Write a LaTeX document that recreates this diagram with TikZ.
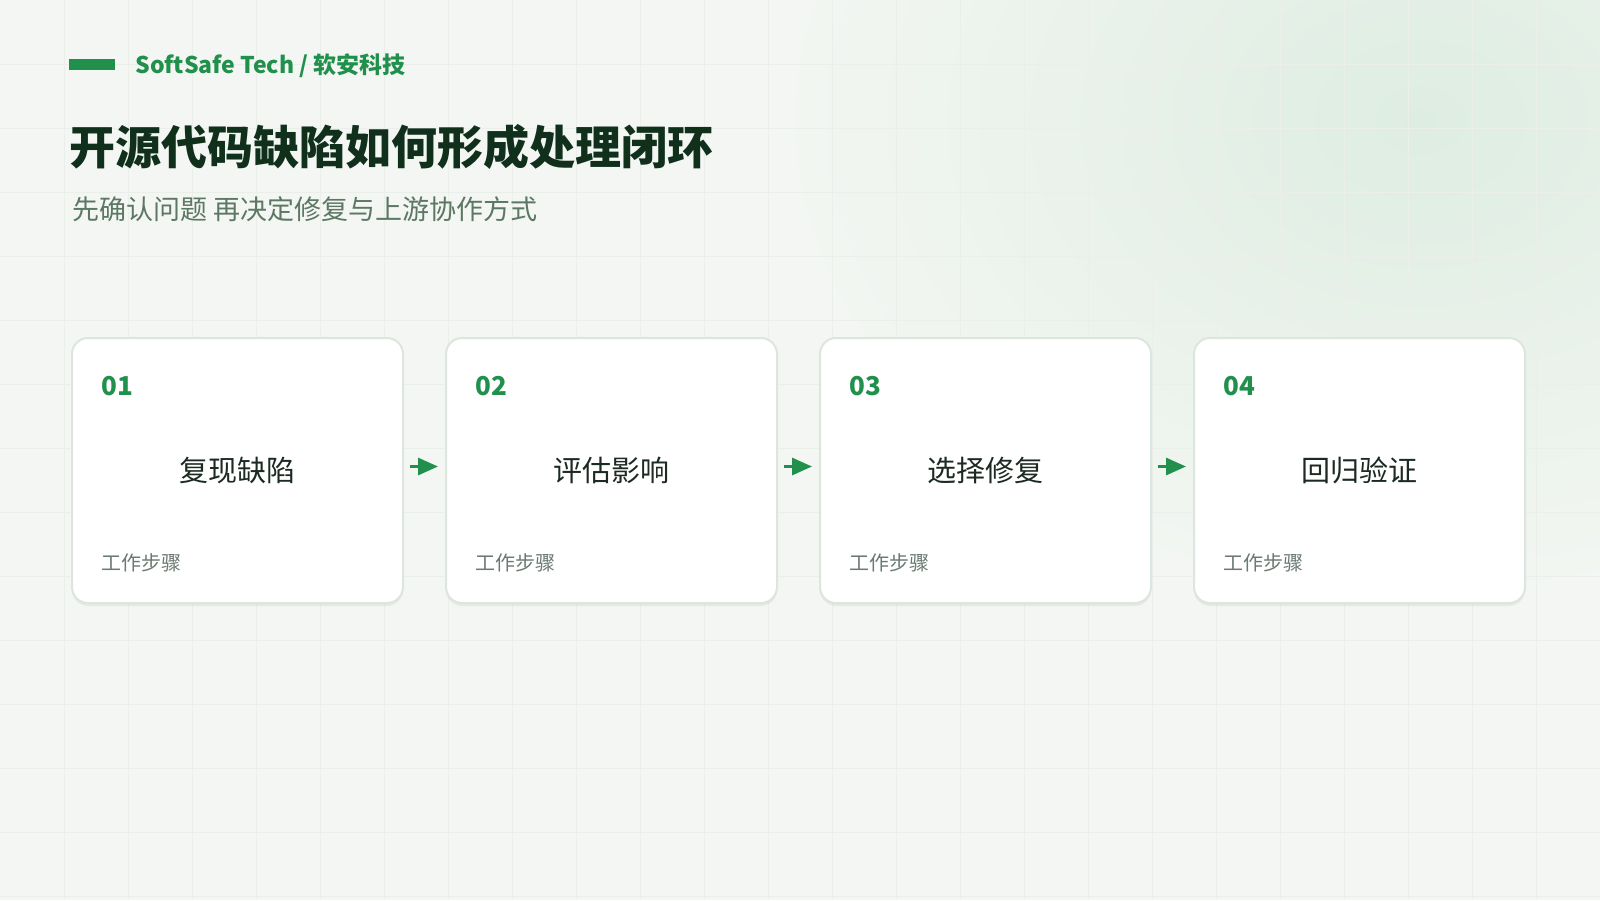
\documentclass[tikz,border=0pt]{standalone}
\usepackage{fontspec}
\setmainfont{Noto Sans CJK SC}
\usetikzlibrary{positioning,arrows.meta,shadows}

\definecolor{bg}{HTML}{F3F6F2}
\definecolor{glow}{HTML}{DEEDE2}
\definecolor{gridline}{HTML}{EAEFEA}
\definecolor{brand}{HTML}{21904C}
\definecolor{titleink}{HTML}{10301C}
\definecolor{subink}{HTML}{5C7764}
\definecolor{ink}{HTML}{1C2A21}
\definecolor{muted}{HTML}{6B7A71}
\definecolor{cardline}{HTML}{DCE5DE}

\begin{document}
\begin{tikzpicture}[x=0.5pt,y=-0.5pt,
	card/.style={draw=cardline, line width=1pt, fill=white, rounded corners=8pt,
		minimum width=165.5pt, minimum height=132.5pt, inner sep=0pt, outer sep=0pt,
		font=\fontsize{14.5}{17}\selectfont, text=ink,
		drop shadow={shadow xshift=0pt, shadow yshift=-1.5pt, opacity=0.05, fill=black}},
	num/.style={anchor=west, inner sep=0pt, font=\fontsize{13}{15}\selectfont\bfseries, text=brand},
	tag/.style={anchor=west, inner sep=0pt, font=\fontsize{10}{12}\selectfont, text=muted},
	flow/.style={draw=brand, line width=1.5pt, -{Triangle[length=10pt,width=8.5pt]},
		shorten <=3.5pt, shorten >=4pt}]

	% background
	\useasboundingbox (0,0) rectangle (1600,900);
	\fill[bg] (0,0) rectangle (1600,900);
	\begin{scope}
		\clip (0,0) rectangle (1600,900);
		\shade[inner color=glow, outer color=bg] (1420,120) ellipse [x radius=640, y radius=480];
	\end{scope}
	\foreach \x in {64,128,...,1536}
		\draw[gridline, line width=0.5pt] (\x,0) -- (\x,900);
	\foreach \y in {64,128,...,896}
		\draw[gridline, line width=0.5pt] (0,\y) -- (1600,\y);

	% header
	\fill[brand] (69,59) rectangle (115,70);
	\node[anchor=west, inner sep=0pt, text=brand, font=\fontsize{11.5}{14}\selectfont\bfseries]
		(brandname) at (135,66) {SoftSafe Tech / 软安科技};
	\node[anchor=west, inner sep=0pt, text=titleink, font=\fontsize{23}{28}\selectfont\bfseries]
		(title) at (69,147) {开源代码缺陷如何形成处理闭环};
	\node[anchor=west, inner sep=0pt, text=subink, font=\fontsize{13.5}{16}\selectfont]
		(subtitle) at (72,209) {先确认问题 再决定修复与上游协作方式};

	% steps
	\node[card] (c1) at (237.5,470.5) {复现缺陷};
	\node[card, right=21.5pt of c1] (c2) {评估影响};
	\node[card, right=21.5pt of c2] (c3) {选择修复};
	\node[card, right=21.5pt of c3] (c4) {回归验证};

	\foreach \i/\n in {1/01,2/02,3/03,4/04} {
		\node[num] (n\i) at ([xshift=14.5pt,yshift=-24pt]c\i.north west) {\n};
		\node[tag] (t\i) at ([xshift=14.5pt,yshift=20pt]c\i.south west) {工作步骤};
	}

	\foreach \a/\b in {c1/c2,c2/c3,c3/c4}
		\draw[flow] ([yshift=2pt]\a.east) -- ([yshift=2pt]\b.west);

\end{tikzpicture}
\end{document}
